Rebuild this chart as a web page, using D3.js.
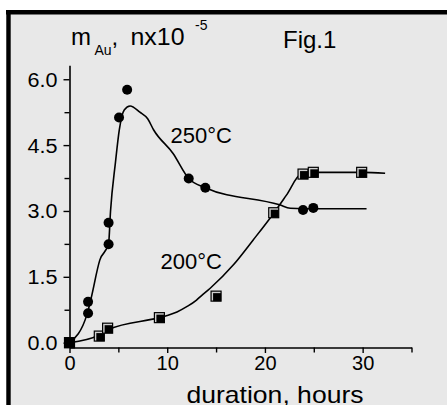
<!DOCTYPE html>
<html><head><meta charset="utf-8">
<script src="https://cdn.jsdelivr.net/npm/d3@7"></script>
<style>body{margin:0;background:#fff}svg{display:block}text{font-family:"Liberation Sans",Arial,sans-serif;fill:#000}</style>
</head><body>
<script>
// 250°C data (filled circles)
const t250 = [1.9, 1.9, 4.0, 4.0, 5.07, 5.9, 12.2, 13.9, 23.9, 24.95];
const m250 = [0.67, 0.93, 2.24, 2.73, 5.13, 5.76, 3.74, 3.53, 3.02, 3.07];
// 250°C fit line
const l250x = [0, 1.8, 2.2, 3.1, 4.0, 4.2, 4.7, 5.1, 5.6, 6.2, 7.2, 8.0, 8.6, 10.6, 12.2, 13.9, 21.5, 22.6, 24, 30.4];
const l250y = [0, 0.65, 1.0, 1.88, 2.26, 3.0, 4.1, 4.85, 5.3, 5.39, 5.25, 5.1, 4.85, 4.31, 3.74, 3.53, 3.14, 3.06, 3.05, 3.05];
// 200°C data (squares)
const t200 = [0, 3.05, 3.9, 9.2, 15.0, 20.9, 23.9, 24.95, 29.9];
const m200 = [0, 0.15, 0.33, 0.57, 1.06, 2.96, 3.84, 3.88, 3.88];
// 200°C fit line
const l200x = [0, 3, 4, 9.2, 10, 11, 12, 13, 13.4, 14.4, 16.8, 18.8, 20.9, 22.2, 23.7, 25, 30, 32.3];
const l200y = [0, 0.17, 0.3, 0.57, 0.62, 0.7, 0.82, 0.97, 1.05, 1.24, 1.78, 2.34, 2.95, 3.36, 3.84, 3.88, 3.88, 3.86];
// ticks
const xTicks = [0, 10, 20, 30];
const xMinor = [5, 15, 25, 35];
const yTicks = [0, 1.5, 3.0, 4.5, 6.0];
const yMinor = [0.75, 2.25, 3.75, 5.25];

const W = 447, H = 405;
const svg = d3.select("body").append("svg").attr("width", W).attr("height", H);
svg.append("rect").attr("x", 6).attr("y", 10).attr("width", W).attr("height", H).attr("fill", "#e8e8e8");
svg.append("line").attr("x1", 6).attr("x2", W).attr("y1", 12.2).attr("y2", 12.2).attr("stroke", "#000").attr("stroke-width", 4.4);
svg.append("line").attr("x1", 8.5).attr("x2", 8.5).attr("y1", 10).attr("y2", H).attr("stroke", "#000").attr("stroke-width", 4.4);

const x = d3.scaleLinear().domain([0, 35]).range([69.5, 411.5]);
const y = d3.scaleLinear().domain([-0.11, 6.32]).range([347.5, 65.2]);

// axes
const gx = svg.append("g").attr("transform", `translate(0,${y(-0.11)})`);
gx.call(d3.axisBottom(x).tickValues(xTicks).tickSize(5.5).tickSizeOuter(0).tickPadding(3).tickFormat(d3.format("d")));
const gxm = svg.append("g").attr("transform", `translate(0,${y(-0.11)})`);
gxm.call(d3.axisBottom(x).tickValues(xMinor).tickSize(5).tickSizeOuter(0).tickFormat(""));
gxm.select(".domain").remove();
const gy = svg.append("g").attr("transform", `translate(${x(0)},0)`);
gy.call(d3.axisLeft(y).tickValues(yTicks).tickSize(6).tickSizeOuter(0).tickPadding(6).tickFormat(d3.format(".1f")));
const gym = svg.append("g").attr("transform", `translate(${x(0)},0)`);
gym.call(d3.axisLeft(y).tickValues(yMinor).tickSize(5).tickSizeOuter(0).tickFormat(""));
gym.select(".domain").remove();
svg.selectAll(".domain").attr("stroke", "#000").attr("stroke-width", 1.6);
svg.selectAll(".tick line").attr("stroke", "#000").attr("stroke-width", 1.4);
gx.selectAll("text").attr("font-size", 20).attr("font-family", "Liberation Sans, Arial, sans-serif").attr("fill", "#000").attr("dy", "0.71em");
gy.selectAll("text").attr("font-size", 19.5).attr("font-family", "Liberation Sans, Arial, sans-serif").attr("fill", "#000")
  .attr("textLength", 30).attr("lengthAdjust", "spacingAndGlyphs").attr("dy", "0.36em");

// lines
const line = d3.line().x(d => x(d[0])).y(d => y(d[1])).curve(d3.curveMonotoneX);
svg.append("path").datum(d3.zip(l250x, l250y)).attr("d", line).attr("fill", "none").attr("stroke", "#000").attr("stroke-width", 1.6);
svg.append("path").datum(d3.zip(l200x, l200y)).attr("d", line).attr("fill", "none").attr("stroke", "#000").attr("stroke-width", 1.6);

// squares
const sq = svg.append("g").selectAll("g").data(d3.zip(t200, m200)).join("g")
  .attr("transform", d => `translate(${x(d[0])},${y(d[1])})`);
sq.append("rect").attr("x", -5).attr("y", -5).attr("width", 10).attr("height", 10).attr("fill", "#d0d0d0").attr("stroke", "#000").attr("stroke-width", 1.2);
sq.append("rect").attr("x", -3).attr("y", -3).attr("width", 8).attr("height", 8).attr("fill", "#000");
// origin fully filled
svg.append("rect").attr("x", x(0) - 5.5).attr("y", y(0) - 5.5).attr("width", 11).attr("height", 11).attr("fill", "#000");

// circles
svg.append("g").selectAll("circle").data(d3.zip(t250, m250)).join("circle")
  .attr("cx", d => x(d[0])).attr("cy", d => y(d[1])).attr("r", 5).attr("fill", "#000");

// texts
const T = (tx, ty, s, fs, opts = {}) => {
  const t = svg.append("text").attr("x", tx).attr("y", ty).attr("font-size", fs).text(s);
  if (opts.len) t.attr("textLength", opts.len).attr("lengthAdjust", "spacingAndGlyphs");
  return t;
};
T(71, 45, "m", 24);
T(94.5, 55, "Au", 14);
T(111.5, 45, ",", 24);
T(130.5, 45, "nx10", 24, {len: 54});
T(195, 30, "-5", 14);
T(283, 47.5, "Fig.1", 24);
T(170.5, 143.3, "250°C", 22);
T(160.5, 269.3, "200°C", 22);
T(186.5, 403, "duration, hours", 24, {len: 177});
</script>
</body></html>
